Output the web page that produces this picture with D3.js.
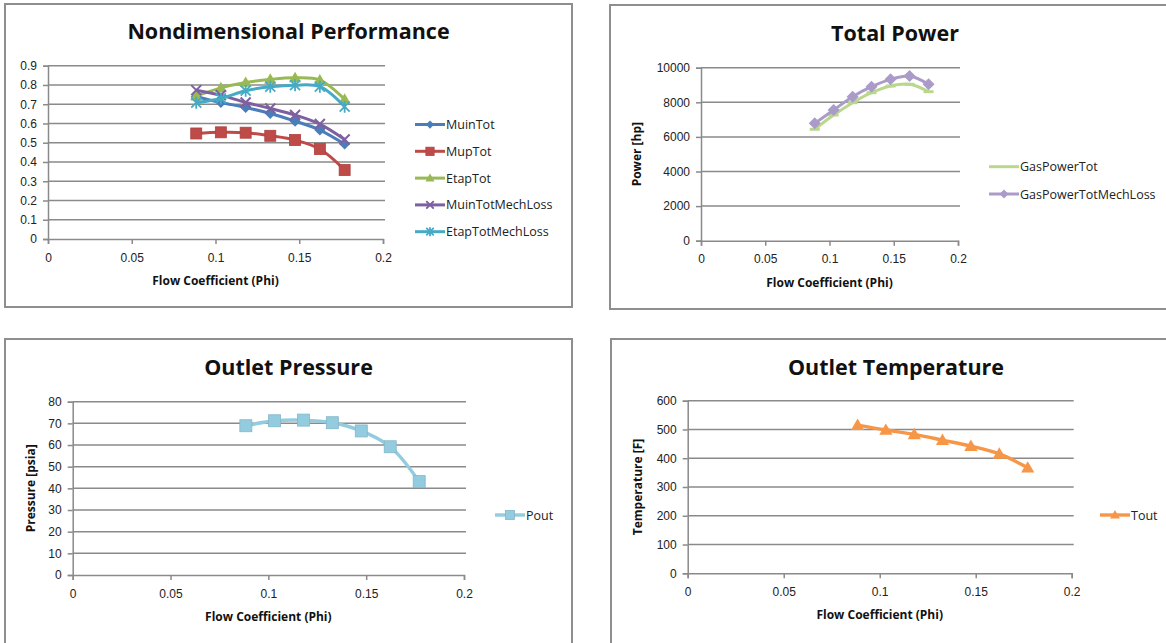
<!DOCTYPE html>
<html><head>
<meta charset="utf-8">
<title>Compressor performance</title>
<script src="https://d3js.org/d3.v7.min.js"></script>
<style>
  body { margin: 0; background: #fff; }
  svg { display: block; font-family: "Open Sans", sans-serif; }
  .tick text { font-size: 12px; fill: #222; }
  .ttl { font-size: 21.5px; font-weight: bold; fill: #111; }
  .axt { font-size: 12px; font-weight: bold; fill: #111; }
  .leg { font-size: 12.5px; fill: #222; }
</style>
</head>
<body>
<svg width="1166" height="643"></svg>
<script>
// flow coefficient at each operating point (shared by all four charts)
let phi = [0.0885, 0.1032, 0.1180, 0.1327, 0.1475, 0.1623, 0.1771];
let phiTicks = [0, 0.05, 0.1, 0.15, 0.2];

// Nondimensional Performance
let muinTot         = [0.739, 0.709, 0.683, 0.652, 0.612, 0.566, 0.493];
let mupTot          = [0.548, 0.554, 0.552, 0.536, 0.514, 0.467, 0.358];
let etapTot         = [0.742, 0.785, 0.813, 0.829, 0.837, 0.825, 0.725];
let muinTotMechLoss = [0.773, 0.747, 0.709, 0.678, 0.644, 0.597, 0.517];
let etapTotMechLoss = [0.708, 0.730, 0.770, 0.791, 0.799, 0.791, 0.687];
let ndTicks = [0, 0.1, 0.2, 0.3, 0.4, 0.5, 0.6, 0.7, 0.8, 0.9];

// Total Power [hp]
let gasPowerTot         = [6440, 7264, 7977, 8555, 8940, 9037, 8613];
let gasPowerTotMechLoss = [6782, 7553, 8324, 8902, 9326, 9518, 9037];
let powerTicks = [0, 2000, 4000, 6000, 8000, 10000];

// Outlet Pressure [psia]
let pout = [68.9, 71.2, 71.5, 70.3, 66.5, 59.2, 43.1];
let poutTicks = [0, 10, 20, 30, 40, 50, 60, 70, 80];

// Outlet Temperature [F]
let tout = [515, 498, 483, 463, 442, 415, 367];
let toutTicks = [0, 100, 200, 300, 400, 500, 600];

let svg = d3.select("svg");

// marker shapes, roughly like Excel's
function marker(g, shape, color, s) {
  if (shape == "diamond") {
    g.append("path").attr("d", `M0,${-s}L${s},0L0,${s}L${-s},0Z`).attr("fill", color);
  } else if (shape == "square") {
    g.append("rect").attr("x", -s).attr("y", -s).attr("width", 2 * s).attr("height", 2 * s)
      .attr("fill", color).attr("stroke", d3.color(color).darker(0.3)).attr("stroke-width", 0.8);
  } else if (shape == "triangle") {
    g.append("path").attr("d", `M0,${-s * 1.1}L${s * 1.1},${s * 0.8}L${-s * 1.1},${s * 0.8}Z`).attr("fill", color);
  } else if (shape == "x") {
    g.append("path").attr("d", `M${-s},${-s}L${s},${s}M${-s},${s}L${s},${-s}`)
      .attr("stroke", color).attr("stroke-width", 2);
  } else if (shape == "star") {
    g.append("path").attr("d", `M${-s},${-s}L${s},${s}M${-s},${s}L${s},${-s}M0,${-s * 1.2}L0,${s * 1.2}`)
      .attr("stroke", color).attr("stroke-width", 1.8);
  } else if (shape == "dash") {
    g.append("rect").attr("x", -s).attr("y", -1.5).attr("width", 2 * s).attr("height", 3).attr("fill", color);
  }
}

function panel(cfg) {
  let g = svg.append("g");
  // outer chart box
  g.append("rect").attr("x", cfg.box[0]).attr("y", cfg.box[1])
    .attr("width", cfg.box[2]).attr("height", cfg.box[3])
    .attr("fill", "#fff").attr("stroke", "#8e8e8e").attr("stroke-width", 2);
  g.append("text").attr("class", "ttl").attr("text-anchor", "middle")
    .attr("x", cfg.box[0] + cfg.box[2] / 2).attr("y", cfg.titleY).text(cfg.title);

  let x = d3.scaleLinear().domain([0, 0.2]).range([cfg.plot[0], cfg.plot[1]]);
  let y = d3.scaleLinear().domain([0, cfg.ymax]).range([cfg.plot[3], cfg.plot[2]]);

  // horizontal gridlines
  g.append("g").selectAll("line").data(cfg.yticks.slice(1)).join("line")
    .attr("x1", cfg.plot[0]).attr("x2", cfg.plot[1] + 2)
    .attr("y1", d => y(d)).attr("y2", d => y(d))
    .attr("stroke", "#8a8a8a").attr("stroke-width", 1.5);

  let ya = g.append("g").attr("transform", `translate(${cfg.plot[0]},0)`)
    .call(d3.axisLeft(y).tickValues(cfg.yticks).tickSize(5).tickPadding(6).tickFormat(d => String(d)));
  let xa = g.append("g").attr("transform", `translate(0,${cfg.plot[3]})`)
    .call(d3.axisBottom(x).tickValues(phiTicks).tickSize(5).tickPadding(9).tickFormat(d => String(d)));
  [ya, xa].forEach(a => {
    a.select(".domain").attr("stroke", "#8a8a8a").attr("stroke-width", 1.5);
    a.selectAll(".tick line").attr("stroke", "#8a8a8a").attr("stroke-width", 1.5);
    a.selectAll(".tick text").attr("font-family", null).attr("font-size", null);
  });

  g.append("text").attr("class", "axt").attr("text-anchor", "middle")
    .attr("x", (cfg.plot[0] + cfg.plot[1]) / 2).attr("y", cfg.plot[3] + 46)
    .text("Flow Coefficient (Phi)");
  if (cfg.ytitle) {
    g.append("text").attr("class", "axt").attr("text-anchor", "middle")
      .attr("transform", `translate(${cfg.ytitleX},${(cfg.plot[2] + cfg.plot[3]) / 2}) rotate(-90)`)
      .text(cfg.ytitle);
  }

  let line = d3.line().x(d => x(d[0])).y(d => y(d[1])).curve(d3.curveCatmullRom);
  cfg.series.forEach((s, i) => {
    let pts = phi.map((p, j) => [p, s.values[j]]);
    g.append("path").attr("d", line(pts)).attr("fill", "none")
      .attr("stroke", s.color).attr("stroke-width", s.width || 3);
    pts.forEach(p => {
      let m = g.append("g").attr("transform", `translate(${x(p[0])},${y(p[1])})`);
      marker(m, s.shape, s.color, s.size);
    });
    // legend entry
    let ly = cfg.legend[1] + i * cfg.legend[2];
    let lx = cfg.legend[0];
    g.append("line").attr("x1", lx).attr("x2", lx + 30).attr("y1", ly).attr("y2", ly)
      .attr("stroke", s.color).attr("stroke-width", s.width || 3);
    let lm = g.append("g").attr("transform", `translate(${lx + 15},${ly})`);
    if (s.shape != "dash") marker(lm, s.shape, s.color, s.size * 0.75);
    g.append("text").attr("class", "leg").attr("x", lx + 31).attr("y", ly + 4.5).text(s.name);
  });
}

panel({
  box: [5, 4, 567, 303], title: "Nondimensional Performance", titleY: 39,
  plot: [48, 383, 65.7, 239], ymax: 0.9, yticks: ndTicks,
  legend: [415, 124.5, 26.8],
  series: [
    { name: "MuinTot", values: muinTot, color: "#4a7ebb", shape: "diamond", size: 5.5 },
    { name: "MupTot", values: mupTot, color: "#be4b48", shape: "square", size: 5.5 },
    { name: "EtapTot", values: etapTot, color: "#98b954", shape: "triangle", size: 5.5 },
    { name: "MuinTotMechLoss", values: muinTotMechLoss, color: "#7d60a0", shape: "x", size: 5 },
    { name: "EtapTotMechLoss", values: etapTotMechLoss, color: "#46aac5", shape: "star", size: 5 }
  ]
});

panel({
  box: [610, 5, 570, 304], title: "Total Power", titleY: 41,
  plot: [701, 958, 67.7, 240.7], ymax: 10000, yticks: powerTicks,
  ytitle: "Power [hp]", ytitleX: 641,
  legend: [989, 166.7, 27.3],
  series: [
    { name: "GasPowerTot", values: gasPowerTot, color: "#b9d88c", shape: "dash", size: 5 },
    { name: "GasPowerTotMechLoss", values: gasPowerTotMechLoss, color: "#ab9bc9", shape: "diamond", size: 6 }
  ]
});

panel({
  box: [5, 339, 567, 320], title: "Outlet Pressure", titleY: 375,
  plot: [72.7, 464, 401.7, 575], ymax: 80, yticks: poutTicks,
  ytitle: "Pressure [psia]", ytitleX: 35,
  legend: [495, 515, 27],
  series: [
    { name: "Pout", values: pout, color: "#93cbdf", shape: "square", size: 6, width: 3.4 }
  ]
});

panel({
  box: [611, 339, 570, 320], title: "Outlet Temperature", titleY: 375,
  plot: [687.7, 1071.7, 400.7, 573.3], ymax: 600, yticks: toutTicks,
  ytitle: "Temperature [F]", ytitleX: 642,
  legend: [1100, 515, 27],
  series: [
    { name: "Tout", values: tout, color: "#f79646", shape: "triangle", size: 6, width: 3.4 }
  ]
});
</script>
</body>
</html>
